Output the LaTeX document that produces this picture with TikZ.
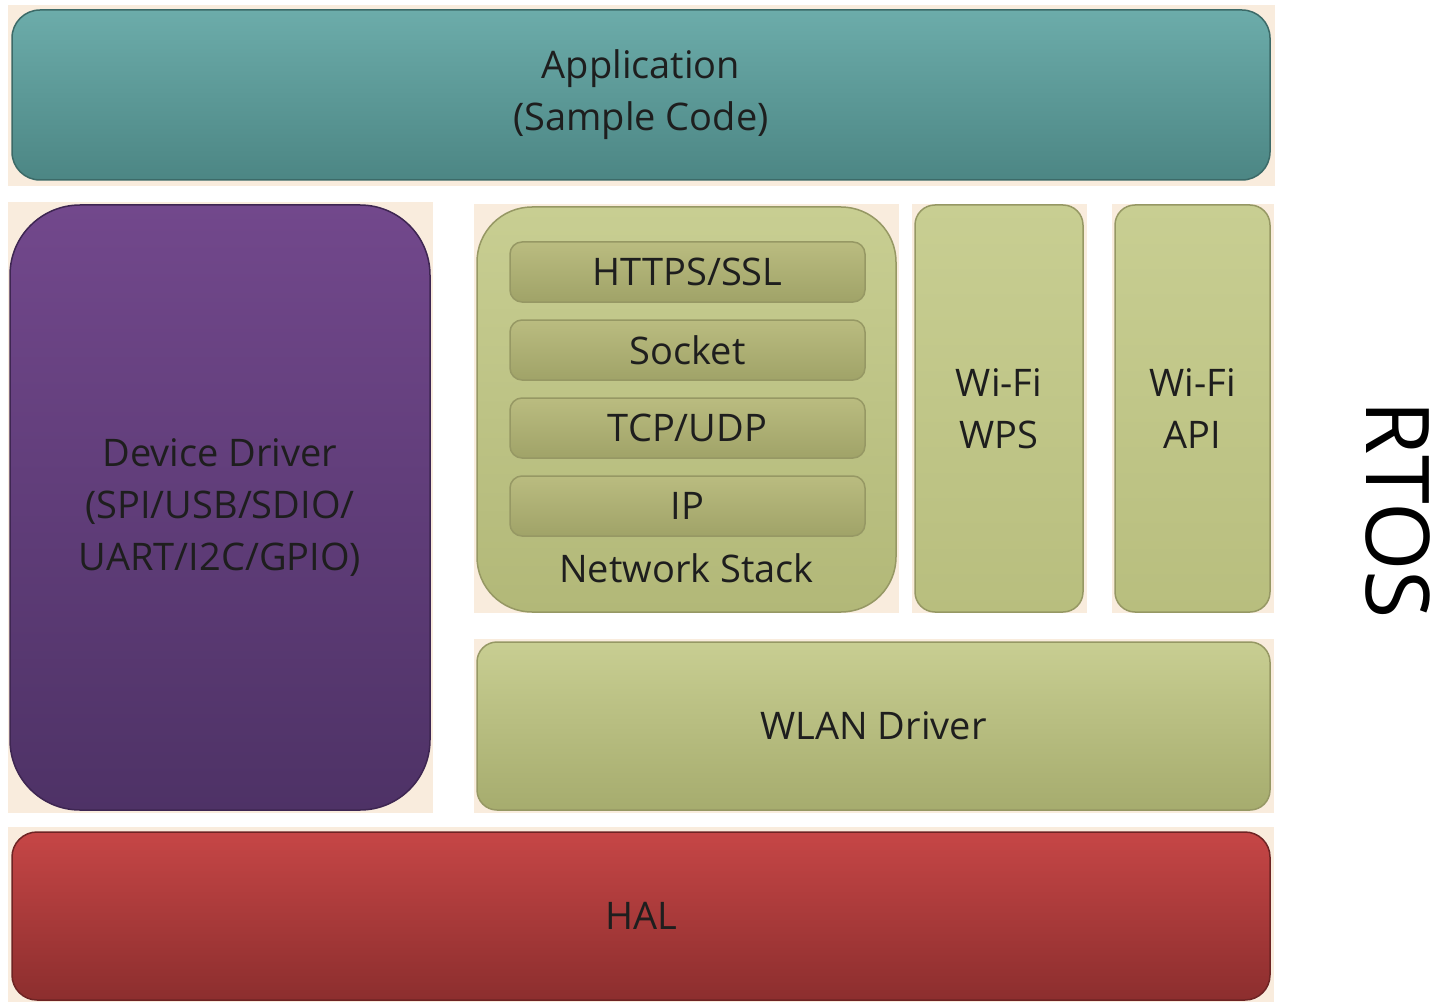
\documentclass[tikz,border=0pt]{standalone}
\usepackage{fontspec}
\setmainfont{Open Sans}
\definecolor{peach}{HTML}{F9ECDD}
\definecolor{txt}{HTML}{1E1E1E}
\definecolor{appT}{RGB}{108,172,170}
\definecolor{appB}{RGB}{76,134,132}
\definecolor{appE}{RGB}{60,106,104}
\definecolor{ddT}{RGB}{114,72,140}
\definecolor{ddB}{RGB}{78,50,102}
\definecolor{ddE}{RGB}{62,38,82}
\definecolor{olT}{RGB}{200,206,146}
\definecolor{olB}{RGB}{178,184,120}
\definecolor{olBw}{RGB}{184,190,126}
\definecolor{olBl}{RGB}{166,172,110}
\definecolor{olE}{RGB}{150,152,100}
\definecolor{barT}{RGB}{186,188,128}
\definecolor{barB}{RGB}{160,163,104}
\definecolor{halT}{RGB}{198,70,70}
\definecolor{halB}{RGB}{140,46,46}
\definecolor{halE}{RGB}{110,36,36}
\begin{document}
\begin{tikzpicture}[x=1pt,y=-1pt,
  blk/.style={draw=#1, line width=1.5pt, inner sep=0pt, text=txt, align=center,
    font=\fontsize{38}{52}\selectfont},
  bg/.style={fill=peach, draw=none},
  olive/.style={blk=olE, top color=olT, bottom color=#1},
]
\useasboundingbox[fill=white] (0,0) rectangle (1435,1003);
% peach backgrounds
\fill[bg] (8,5) rectangle (1275,186);
\fill[bg] (8,202) rectangle (433,813);
\fill[bg] (474,204) rectangle (899,613);
\fill[bg] (912,204) rectangle (1087,613);
\fill[bg] (1112,204) rectangle (1274,613);
\fill[bg] (474,639) rectangle (1274,813);
\fill[bg] (8,827) rectangle (1274,1002);
% Application
\node[blk=appE, top color=appT, bottom color=appB, rounded corners=28pt, minimum width=1258pt, minimum height=170pt] (app) at (641,95) {Application\\(Sample Code)};
% Device driver
\node[blk=ddE, top color=ddT, bottom color=ddB, rounded corners=70pt, minimum width=420pt, minimum height=605pt] (dd) at (220,507.5) {Device Driver\\(SPI/USB/SDIO/\\UART/I2C/GPIO)};
% Network stack
\node[olive=olB, rounded corners=55pt, minimum width=419pt, minimum height=405pt] (ns) at (686.5,409.5) {};
\node[text=txt, font=\fontsize{38}{52}\selectfont, inner sep=0pt] (nslabel) at (686.5,568) {Network Stack};
\foreach \n/\t/\y in {https/HTTPS\slash SSL/272, sock/Socket/350, tcp/TCP\slash UDP/428, ip/IP/506}{
  \node[blk=olE, top color=barT, bottom color=barB, rounded corners=12pt, minimum width=355pt, minimum height=60pt] (\n) at (687.5,\y) {\t};
}
% Wi-Fi boxes
\node[olive=olBw, rounded corners=20pt, minimum width=168pt, minimum height=407pt] (wps) at (999,408.5) {Wi-Fi\\WPS};
\node[olive=olBw, rounded corners=20pt, minimum width=155pt, minimum height=407pt] (api) at (1192.5,408.5) {Wi-Fi\\API};
% WLAN driver
\node[olive=olBl, rounded corners=20pt, minimum width=793pt, minimum height=168pt] (wlan) at (873.5,726) {WLAN Driver};
% HAL
\node[blk=halE, top color=halT, bottom color=halB, rounded corners=25pt, minimum width=1258pt, minimum height=168pt] (hal) at (641,916) {HAL};
% RTOS
\node[rotate=-90, text=black, inner sep=0pt, font=\fontsize{88}{88}\selectfont] (rtos) at (1398,510) {RTOS};
\end{tikzpicture}
\end{document}
